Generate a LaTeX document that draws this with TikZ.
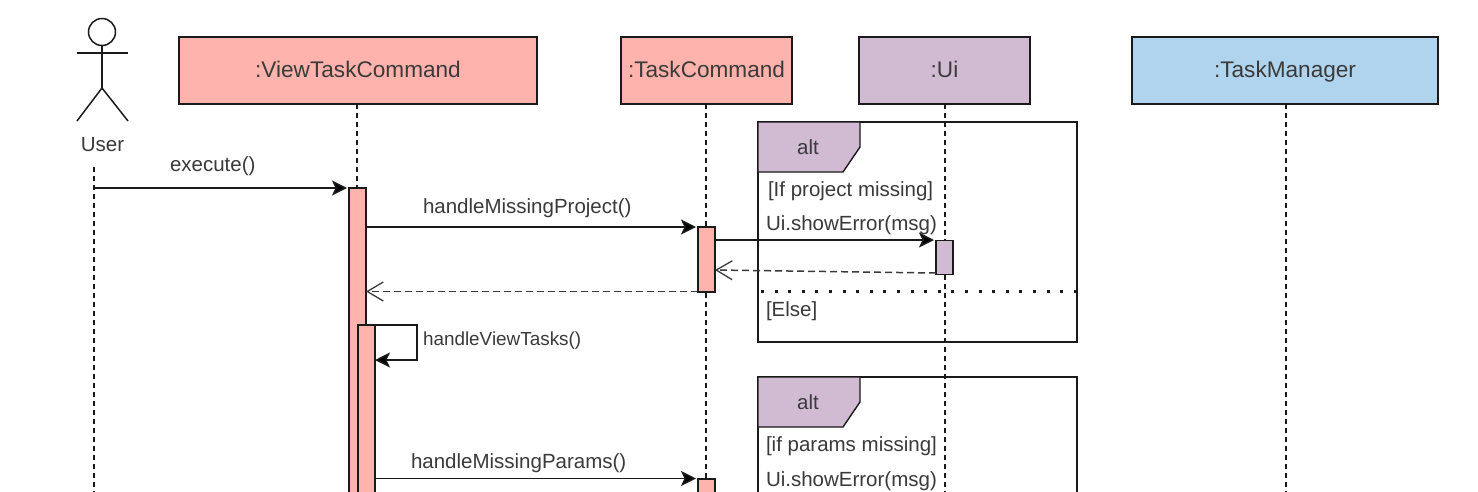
\documentclass[tikz,border=0pt]{standalone}
\usepackage{fontspec}
\setmainfont{Liberation Sans}
\usetikzlibrary{arrows.meta,positioning,calc}
\definecolor{pinkf}{HTML}{FFB3AC}
\definecolor{purplef}{HTML}{D1BBD3}
\definecolor{bluef}{HTML}{B0D4EE}
\definecolor{ink}{HTML}{1A1A1A}
\definecolor{txt}{HTML}{3A3A3A}
\newcommand{\fhead}{\fontsize{22.6}{26}\selectfont}
\newcommand{\fbig}{\fontsize{20.5}{24}\selectfont}
\newcommand{\fview}{\fontsize{18.9}{22}\selectfont}
\tikzset{
  x=1pt,y=-1pt,
  every node/.style={text=txt,inner sep=0pt,outer sep=0pt,font=\fbig},
  objbox/.style={draw=ink,line width=1.5pt,minimum height=67pt,anchor=north west,font=\fhead,text height=15pt,text depth=2pt},
  bar/.style={draw=ink,line width=1.5pt,minimum width=17pt,anchor=north west},
  life/.style={draw=ink,line width=1.4pt,dash pattern=on 5pt off 4pt},
  msg/.style={draw=ink,line width=1.5pt,-{Stealth[length=15pt,width=15pt,inset=3.5pt,fill=black]}},
  ret/.style={draw=txt,line width=1.5pt,dash pattern=on 7pt off 4pt,-{Straight Barb[length=16pt,width=19pt,line width=1.3pt]}},
  frameline/.style={draw=ink,line width=1.4pt},
  lbl/.style={anchor=base west}
}
\begin{document}
\begin{tikzpicture}
\clip (0,0) rectangle (1478,491);
\fill[white] (0,0) rectangle (1478,491);
% coordinates
\coordinate (bottom) at (0,495);
\coordinate (mExec) at (0,188);
\coordinate (mProj) at (0,227);
\coordinate (mShow) at (0,240);
\coordinate (mRetA) at (0,273);
\coordinate (mRetB) at (0,270);
\coordinate (mBack) at (0,291.5);
\coordinate (mParams) at (0,478.5);
\coordinate (loopA) at (417,325);
\coordinate (loopB) at (417,360);
\coordinate (userTop) at (94,167);
% objects
\node[objbox,fill=pinkf,minimum width=358pt] (vtc) at (179,37) {:ViewTaskCommand};
\node[objbox,fill=pinkf,minimum width=171pt] (tc) at (621,37) {:TaskCommand};
\node[objbox,fill=purplef,minimum width=171pt] (ui) at (859,37) {:Ui};
\node[objbox,fill=bluef,minimum width=306pt] (tm) at (1132,37) {:TaskManager};
% lifelines
\coordinate (lv) at (357,104);
\coordinate (lt) at (706,104);
\coordinate (lu) at (945,104);
\coordinate (lm) at (1286,104);
\draw[life] (lv) -- (lv |- bottom);
\draw[life] (lt) -- (lt |- bottom);
\draw[life] (lu) -- (lu |- bottom);
\draw[life] (lm) -- (lm |- bottom);
\draw[life] (userTop) -- (userTop |- bottom);
% actor
\node[draw=ink,line width=1.5pt,circle,minimum size=27pt] (head) at (102,32) {};
\coordinate (hip) at (102,88);
\coordinate (shL) at (77,53);
\coordinate (shR) at (128,53);
\coordinate (footL) at (77,121);
\coordinate (footR) at (128,121);
\draw[ink,line width=1.5pt] (head.south) -- (hip);
\draw[ink,line width=1.5pt] (shL) -- (shR);
\draw[ink,line width=1.5pt] (footL) -- (hip) -- (footR);
\node (user) at (102.5,144.5) {User};
% frames
\draw[frameline] (758,122) rectangle (1077,342);
\draw[frameline] (758,377) rectangle (1077,520);
\draw[frameline,fill=purplef] (758,122) -- (860,122) -- (860,147) -- (843,172) -- (758,172) -- cycle;
\draw[frameline,fill=purplef] (758,377) -- (860,377) -- (860,402) -- (843,427) -- (758,427) -- cycle;
\node (alt1) at (808,147.5) {alt};
\node (alt2) at (808,402.5) {alt};
\draw[ink,line width=3pt,dash pattern=on 3pt off 10.6pt] (761,291.5) -- (1079,291.5);
% bars
\node[bar,fill=pinkf,minimum height=320pt] (a1) at (349,188) {};
\node[bar,fill=pinkf,minimum height=180pt] (a2) at (358,325) {};
\node[bar,fill=pinkf,minimum height=65pt] (b1) at (698,227) {};
\node[bar,fill=purplef,minimum height=34pt] (c1) at (936,240.5) {};
\node[bar,fill=pinkf,minimum height=30pt] (b2) at (698,479) {};
% messages
\draw[msg] (userTop |- mExec) -- ([xshift=-2pt]a1.west |- mExec);
\draw[msg] (a1.east |- mProj) -- ([xshift=-2pt]b1.west |- mProj);
\draw[msg] (b1.east |- mShow) -- ([xshift=-2pt]c1.west |- mShow);
\draw[ret] (c1.west |- mRetA) -- (b1.east |- mRetB);
\draw[ret] (b1.west |- mBack) -- (a1.east |- mBack);
\draw[msg] (a2.north east) -- (loopA) -- (loopB) -- (a2.east |- loopB);
\draw[msg] (a2.east |- mParams) -- ([xshift=-2pt]b2.west |- mParams);
% labels
\node[lbl] (tExec) at (170,171) {execute()};
\node[lbl] (tProj) at (423,213.5) {handleMissingProject()};
\node[lbl] (tView) at (423,345) {\fview handleViewTasks()};
\node[lbl] (tParams) at (411,468.5) {handleMissingParams()};
\node[lbl] (tIf1) at (768,196.5) {[If project missing]};
\node[lbl] (tShow1) at (766,230.5) {Ui.showError(msg)};
\node[lbl] (tElse) at (766,316) {[Else]};
\node[lbl] (tIf2) at (766,451.5) {[if params missing]};
\node[lbl] (tShow2) at (766,486.5) {Ui.showError(msg)};
\end{tikzpicture}
\end{document}
